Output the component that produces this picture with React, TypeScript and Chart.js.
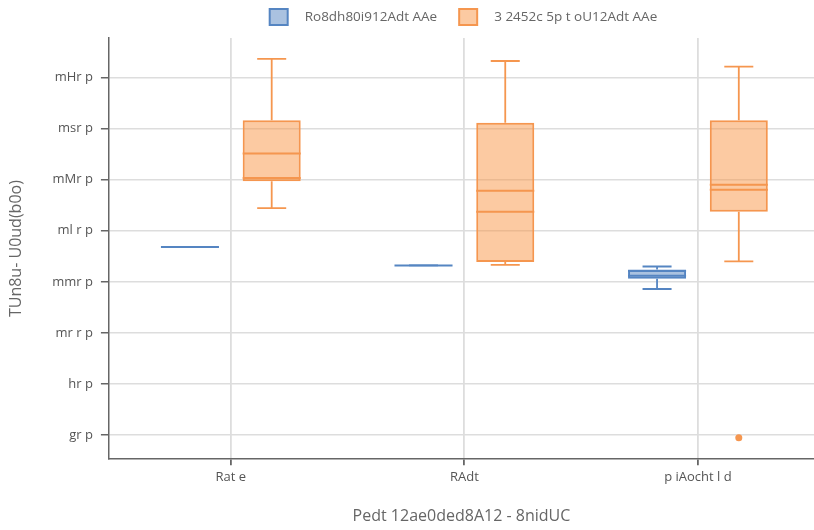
import React, { useEffect, useRef } from "react";
import { Chart, registerables } from "chart.js";

Chart.register(...registerables);

const categories = ["Rat e", "RAdt", "p iAocht l d"];
const seriesNames = ["Ro8dh80i912Adt AAe", "3 2452c 5p t oU12Adt AAe"];
const yTickValues = [80, 90, 100, 110, 120, 130, 140, 150];
const yTickLabels = ["gr p", "hr p", "mr r p", "mmr p", "ml r p", "mMr p", "msr p", "mHr p"];
const yTitle = "TUn8u- U0ud(b0o)";
const xTitle = "Pedt 12ae0ded8A12 - 8nidUC";

// series A (blue)
const aMin = [116.8, 113.2, 108.6];
const aQ1 = [116.8, 113.2, 110.6];
const aMedian = [116.8, 113.2, 111.2];
const aMean = [116.8, 113.2, 112.1];
const aQ3 = [116.8, 113.2, 112.4];
const aMax = [116.8, 113.2, 113.0];
const aOutliers: number[][] = [[], [], []];

// series B (orange)
const bMin = [124.4, 113.3, 114.0];
const bQ1 = [129.7, 113.9, 123.7];
const bMedian = [130.3, 123.7, 128.0];
const bMean = [135.1, 127.8, 129.0];
const bQ3 = [141.6, 141.1, 141.6];
const bMax = [153.6, 153.2, 152.1];
const bOutliers: number[][] = [[], [], [79.5]];

const strokes = ["#5585c2", "#f5964f"];
const fills = ["rgba(85,133,194,0.5)", "rgba(250,150,70,0.5)"];

const stats = [
  { min: aMin, q1: aQ1, med: aMedian, mean: aMean, q3: aQ3, max: aMax, out: aOutliers },
  { min: bMin, q1: bQ1, med: bMedian, mean: bMean, q3: bQ3, max: bMax, out: bOutliers },
];

const FONT = "Open Sans";

const boxPlugin = {
  id: "boxExtras",
  afterDatasetsDraw(chart: any) {
    const ctx = chart.ctx;
    const y = chart.scales.y;
    stats.forEach((s, i) => {
      const meta = chart.getDatasetMeta(i);
      meta.data.forEach((el: any, j: number) => {
        const x = el.x;
        const w = el.width;
        ctx.save();
        ctx.strokeStyle = strokes[i];
        ctx.fillStyle = strokes[i];
        ctx.lineWidth = 1.8;
        const yMax = y.getPixelForValue(s.max[j]);
        const yQ3 = y.getPixelForValue(s.q3[j]);
        const yQ1 = y.getPixelForValue(s.q1[j]);
        const yMin = y.getPixelForValue(s.min[j]);
        ctx.beginPath();
        ctx.moveTo(x, yMax);
        ctx.lineTo(x, yQ3);
        ctx.moveTo(x, yQ1);
        ctx.lineTo(x, yMin);
        ctx.moveTo(x - w / 4, yMax);
        ctx.lineTo(x + w / 4, yMax);
        ctx.moveTo(x - w / 4, yMin);
        ctx.lineTo(x + w / 4, yMin);
        ctx.stroke();
        ctx.lineWidth = 2;
        ctx.beginPath();
        [s.med[j], s.mean[j]].forEach((v) => {
          const yy = y.getPixelForValue(v);
          ctx.moveTo(x - w / 2, yy);
          ctx.lineTo(x + w / 2, yy);
        });
        ctx.stroke();
        s.out[j].forEach((v) => {
          ctx.beginPath();
          ctx.arc(x, y.getPixelForValue(v), 3.5, 0, Math.PI * 2);
          ctx.fill();
        });
        ctx.restore();
      });
    });
  },
  afterDraw(chart: any) {
    // legend centred over the plot area
    const ctx = chart.ctx;
    const area = chart.chartArea;
    ctx.save();
    ctx.font = `13.5px "${FONT}"`;
    const boxW = 18, boxH = 16, gapText = 17, gapItem = 22;
    const widths = seriesNames.map((n) => ctx.measureText(n).width);
    const total = widths.reduce((a, w) => a + boxW + gapText + w, 0) + gapItem;
    let x = (area.left + area.right) / 2 - total / 2 + 2;
    const cy = 17;
    seriesNames.forEach((n, i) => {
      ctx.fillStyle = fills[i];
      ctx.fillRect(x, cy - boxH / 2, boxW, boxH);
      ctx.strokeStyle = strokes[i];
      ctx.lineWidth = 2;
      ctx.strokeRect(x, cy - boxH / 2, boxW, boxH);
      ctx.fillStyle = "#666";
      ctx.textBaseline = "middle";
      ctx.textAlign = "left";
      ctx.fillText(n, x + boxW + gapText, cy);
      x += boxW + gapText + widths[i] + gapItem;
    });
    ctx.restore();
  },
};

export default function App() {
  const ref = useRef<HTMLCanvasElement>(null);
  useEffect(() => {
    document.body.style.margin = "0";
    const chart = new Chart(ref.current!, {
      type: "bar",
      data: {
        datasets: stats.map((s, i) => ({
          label: seriesNames[i],
          data: categories.map((_, j) => ({ x: j, y: [s.q1[j], s.q3[j]] })) as any,
          backgroundColor: fills[i],
          borderColor: strokes[i],
          borderWidth: 2,
          borderSkipped: false,
        })),
      },
      options: {
        animation: false,
        responsive: false,
        categoryPercentage: 0.7,
        barPercentage: 0.71,
        layout: { padding: { top: 38, right: 0, left: 3, bottom: 0 } },
        plugins: {
          tooltip: { enabled: false },
          legend: { display: false },
        },
        scales: {
          x: {
            type: "linear",
            offset: false,
            min: -0.522,
            max: 2.497,
            afterBuildTicks: (scale: any) => {
              scale.ticks = categories.map((_, j) => ({ value: j }));
            },
            grid: { offset: false, color: "#dddddd", lineWidth: 1.8, drawTicks: true, tickLength: 6, tickColor: "#666" },
            border: { color: "#666", width: 1.5 },
            ticks: {
              color: "#555",
              font: { family: FONT, size: 13 },
              padding: 4,
              callback: (v: any) => categories[Number(v)] ?? "",
            },
            title: { display: true, text: xTitle, color: "#666", font: { family: FONT, size: 16 }, padding: { top: 18 } },
          },
          y: {
            min: 75.3,
            max: 157.7,
            afterBuildTicks: (scale: any) => {
              scale.ticks = yTickValues.map((v) => ({ value: v }));
            },
            grid: { color: "#dddddd", lineWidth: 1.5, tickLength: 8, tickColor: "#666" },
            border: { color: "#666", width: 1.5 },
            ticks: {
              color: "#555",
              font: { family: FONT, size: 13 },
              padding: 8,
              callback: (v: any) => {
                const i = yTickValues.indexOf(Number(v));
                return i >= 0 ? yTickLabels[i] : "";
              },
            },
            title: { display: true, text: yTitle, color: "#666", font: { family: FONT, size: 16 }, padding: { bottom: 18 } },
          },
        },
      } as any,
      plugins: [boxPlugin],
    });
    return () => chart.destroy();
  }, []);
  return (
    <div style={{ position: "fixed", left: 0, top: 0, width: 814, height: 530 }}>
      <canvas ref={ref} width={814} height={530} />
    </div>
  );
}
